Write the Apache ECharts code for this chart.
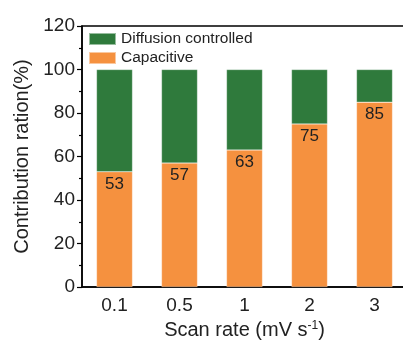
<!DOCTYPE html>
<html>
<head>
<meta charset="utf-8">
<script src="https://cdn.jsdelivr.net/npm/echarts@6/dist/echarts.min.js"></script>
<style>
  html, body { margin: 0; padding: 0; background: #fff; }
  #chart { width: 403px; height: 340px; }
</style>
</head>
<body>
<div id="chart"></div>
<script>
// data
const scanRates = ['0.1', '0.5', '1', '2', '3'];
const capacitive = [53, 57, 63, 75, 85];
const diffusion = [47, 43, 37, 25, 15];
const yTicks = { min: 0, max: 120, step: 20 };

const font = 'Liberation Sans, Arial, sans-serif';
const txt = '#222';

const myChart = echarts.init(document.getElementById('chart'));

const option = {
    animation: false,
    grid: {
        left: 82, top: 26, right: -4, bottom: 53,
        outerBoundsMode: 'none',
        show: true, borderColor: '#000', borderWidth: 1.5
    },
    legend: {
        orient: 'vertical',
        left: 88, top: 31, padding: 0,
        itemWidth: 27, itemHeight: 12, itemGap: 3,
        icon: 'rect',
        data: ['Diffusion controlled', 'Capacitive'],
        textStyle: { fontFamily: font, fontSize: 15.5, color: txt }
    },
    xAxis: [{
        type: 'category',
        data: scanRates,
        name: '{a|Scan rate (mV s}{b|-1}{a|)}',
        nameLocation: 'middle',
        nameGap: 30,
        nameTextStyle: {
            rich: {
                a: { fontFamily: font, fontSize: 20, color: txt },
                b: { fontFamily: font, fontSize: 12, color: txt, verticalAlign: 'top', padding: [0, 0, 10, 0] }
            }
        },
        axisLine: { lineStyle: { color: '#000', width: 1.5 } },
        axisTick: { alignWithLabel: true, length: 5, lineStyle: { color: '#000', width: 1.2 } },
        axisLabel: { fontFamily: font, fontSize: 19, color: txt, margin: 9 }
    }, {
        type: 'category',
        data: scanRates,
        position: 'bottom',
        axisLine: { show: false },
        axisTick: { length: 2, lineStyle: { color: '#000', width: 1.2 } },
        axisLabel: { show: false }
    }],
    yAxis: {
        type: 'value',
        min: yTicks.min, max: yTicks.max, interval: yTicks.step,
        name: 'Contribution ration(%)',
        nameLocation: 'middle',
        nameGap: 50,
        nameTextStyle: { fontFamily: font, fontSize: 20, color: txt },
        axisLine: { show: true, lineStyle: { color: '#000', width: 1.5 } },
        axisTick: { show: true, length: 5, lineStyle: { color: '#000', width: 1.2 } },
        minorTick: { show: true, splitNumber: 2, length: 3, lineStyle: { color: '#000', width: 1.2 } },
        splitLine: { show: false },
        axisLabel: { fontFamily: font, fontSize: 19, color: txt, margin: 7 }
    },
    series: [{
        name: 'Capacitive',
        type: 'bar',
        stack: 'total',
        data: capacitive,
        barWidth: 36,
        itemStyle: { color: '#f5913f', borderColor: 'rgba(255,255,255,0.5)', borderWidth: 0.5 },
        label: {
            show: true, position: 'insideTop', distance: 4,
            fontFamily: font, fontSize: 17, color: txt
        }
    }, {
        name: 'Diffusion controlled',
        type: 'bar',
        stack: 'total',
        data: diffusion,
        barWidth: 36,
        itemStyle: { color: '#2f7a3c', borderColor: 'rgba(255,255,255,0.5)', borderWidth: 0.5 }
    }]
};
myChart.setOption(option);
</script>
</body>
</html>
